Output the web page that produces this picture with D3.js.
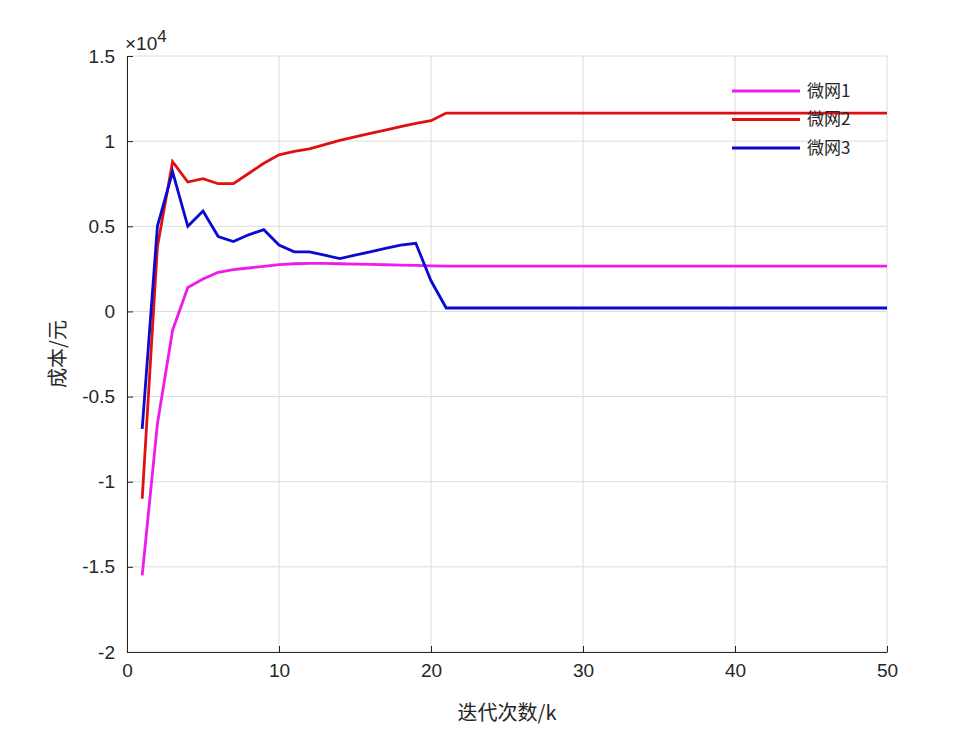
<!DOCTYPE html>
<html><head><meta charset="utf-8">
<script src="https://cdn.jsdelivr.net/npm/d3@7"></script>
<style>body{margin:0;background:#fff}text{font-family:Arial,"Liberation Sans",sans-serif}</style>
</head><body><svg id="c" width="980" height="735"></svg>
<script>
// iterations 1..50, cost in units of 1e4
const iters = d3.range(1, 51);
const mg1 = [-1.55,-0.66,-0.11,0.14,0.19,0.23,0.245,0.255,0.265,0.275,0.28,0.282,0.282,0.28,0.278,0.276,0.274,0.272,0.27,0.268,0.266];
const mg2 = [-1.1,0.38,0.88,0.76,0.78,0.75,0.75,0.81,0.87,0.92,0.94,0.955,0.98,1.005,1.025,1.045,1.065,1.085,1.105,1.12,1.165];
const mg3 = [-0.69,0.5,0.82,0.5,0.59,0.44,0.41,0.45,0.48,0.39,0.35,0.35,0.33,0.31,0.33,0.35,0.37,0.39,0.40,0.18,0.02];
const fill = (a, v) => a.concat(d3.range(50 - a.length).map(() => v));
const series = [
  {name: "微网1", color: "#ee1aee", values: fill(mg1, 0.266)},
  {name: "微网2", color: "#e01010", values: fill(mg2, 1.165)},
  {name: "微网3", color: "#0a0ad0", values: fill(mg3, 0.02)}
];
const yTicks = [-2,-1.5,-1,-0.5,0,0.5,1,1.5];
const xTicks = [0,10,20,30,40,50];

const svg = d3.select("#c");
const x = d3.scaleLinear().domain([0, 50]).range([127, 887]);
const y = d3.scaleLinear().domain([-2, 1.5]).range([652, 56]);

// grid
svg.append("g").selectAll("line").data(xTicks).join("line")
  .attr("x1", d => x(d)).attr("x2", d => x(d)).attr("y1", 56).attr("y2", 652)
  .attr("stroke", "#dcdcdc");
svg.append("g").selectAll("line").data(yTicks).join("line")
  .attr("y1", d => y(d)).attr("y2", d => y(d)).attr("x1", 127).attr("x2", 887)
  .attr("stroke", "#dcdcdc");

const xa = svg.append("g").attr("transform", "translate(0,652)")
  .call(d3.axisBottom(x).tickValues(xTicks).tickSizeInner(-6).tickSizeOuter(0).tickPadding(12));
const ya = svg.append("g").attr("transform", "translate(127,0)")
  .call(d3.axisLeft(y).tickValues(yTicks).tickFormat(d => String(d)).tickSizeInner(-6).tickSizeOuter(0).tickPadding(12));
[xa, ya].forEach(g => {
  g.selectAll("text").attr("font-size", 19).attr("fill", "#262626");
  g.selectAll("line,path").attr("stroke", "#262626");
});

svg.append("text").attr("x", 125).attr("y", 50).attr("font-size", 19).attr("fill", "#262626")
  .html('×10<tspan dy="-8" font-size="17">4</tspan>');

const line = d3.line().x((d, i) => x(iters[i])).y(d => y(d));
svg.append("g").selectAll("path").data(series).join("path")
  .attr("d", d => line(d.values)).attr("fill", "none")
  .attr("stroke", d => d.color).attr("stroke-width", 2.8);

// legend
const lg = svg.append("g").selectAll("g").data(series).join("g")
  .attr("transform", (d, i) => `translate(732,${91 + i * 28.5})`);
lg.append("line").attr("x1", 0).attr("x2", 68).attr("stroke", d => d.color).attr("stroke-width", 2.8);
lg.append("text").attr("x", 75).attr("dy", "0.35em").attr("font-size", 17).attr("fill", "#262626")
  .style("font-family", "'Noto Sans CJK SC',sans-serif").text(d => d.name);

svg.append("text").attr("x", 507).attr("y", 720).attr("text-anchor", "middle").attr("font-size", 20)
  .attr("fill", "#262626").style("font-family", "'Noto Sans CJK SC',serif").text("迭代次数/k");
svg.append("text").attr("transform", "translate(65,354) rotate(-90)").attr("text-anchor", "middle")
  .attr("font-size", 20).attr("fill", "#262626").style("font-family", "'Noto Sans CJK SC',serif").text("成本/元");
</script></body></html>
